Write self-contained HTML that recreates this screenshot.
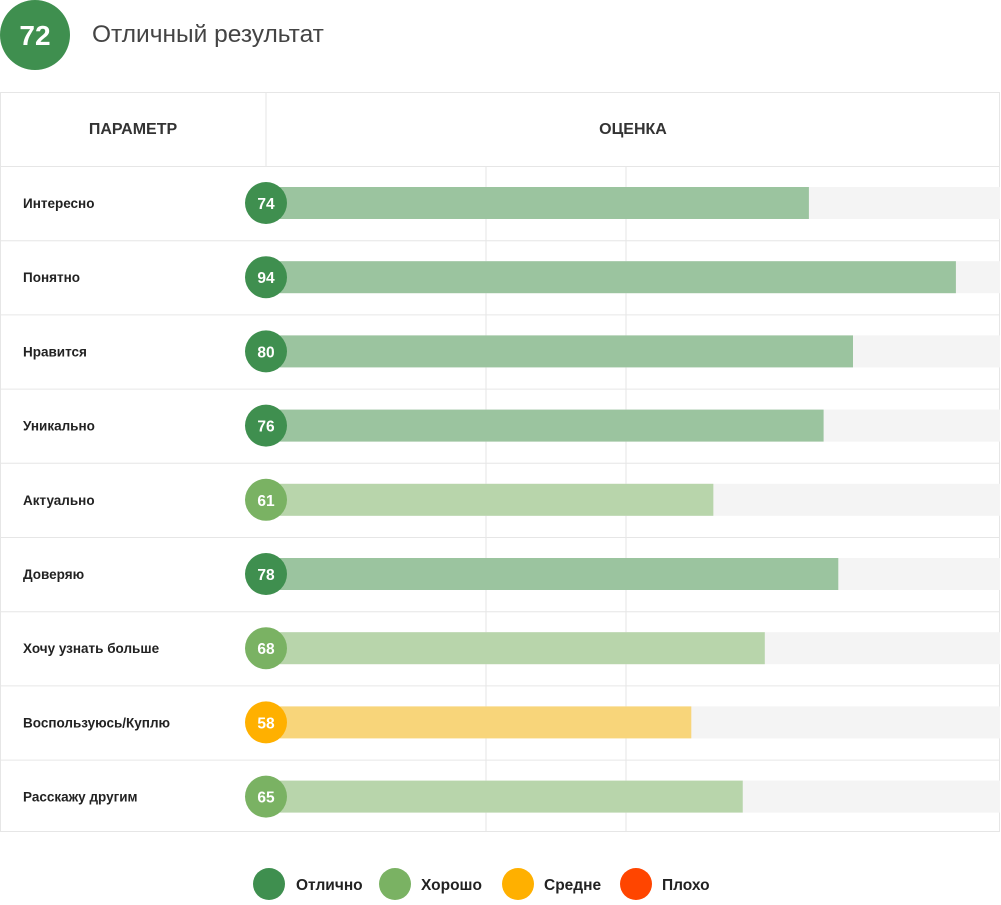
<!DOCTYPE html>
<html><head><meta charset="utf-8"><style>
body{margin:0;background:#fff;width:1001px;height:900px;overflow:hidden;font-family:"Liberation Sans",sans-serif}
svg text{font-family:"Liberation Sans",sans-serif}
</style></head><body>
<svg id="c" width="1001" height="900">
<circle cx="35" cy="35" r="35" fill="#3f8f4f"/>
<text x="35" y="45" text-anchor="middle" fill="#fff" font-size="28" font-weight="bold">72</text>
<text x="92" y="42" fill="#444" font-size="24.5">Отличный результат</text>
<rect x="0.5" y="92.5" width="999" height="739" fill="none" stroke="#e6e6e6"/>
<line x1="266" y1="92" x2="266" y2="166" stroke="#e6e6e6"/>
<line x1="486" y1="166" x2="486" y2="832" stroke="#e6e6e6"/>
<line x1="626" y1="166" x2="626" y2="832" stroke="#e6e6e6"/>
<text x="133" y="134" text-anchor="middle" fill="#333" font-size="16" font-weight="bold">ПАРАМЕТР</text>
<text x="633" y="134" text-anchor="middle" fill="#333" font-size="16" font-weight="bold">ОЦЕНКА</text>
<g id="rows"></g>
<circle cx="269" cy="884" r="16" fill="#3f8f4f"/>
<text x="296" y="890" font-size="15.5" font-weight="bold" fill="#222">Отлично</text>
<circle cx="395" cy="884" r="16" fill="#7ab263"/>
<text x="421" y="890" font-size="15.5" font-weight="bold" fill="#222">Хорошо</text>
<circle cx="518" cy="884" r="16" fill="#ffb000"/>
<text x="544" y="890" font-size="15.5" font-weight="bold" fill="#222">Средне</text>
<circle cx="636" cy="884" r="16" fill="#ff4500"/>
<text x="662" y="890" font-size="15.5" font-weight="bold" fill="#222">Плохо</text>
</svg>
<script>
const categories=["Интересно","Понятно","Нравится","Уникально","Актуально","Доверяю","Хочу узнать больше","Воспользуюсь/Куплю","Расскажу другим"];
const values=[74,94,80,76,61,78,68,58,65];
const x0=265,x1=1000;
function xs(v){return x0+(x1-x0)*v/100;}
function rowY(i){return 166+i*74.2;}
function col(v){return v>=70?["#3f8f4f","#9bc49f"]:v>=60?["#7ab263","#b8d5ab"]:v>=40?["#ffb000","#f8d57a"]:["#ff4500","#f9a98a"];}
const g=document.getElementById('rows');const NS="http://www.w3.org/2000/svg";
function mk(t,a){const e=document.createElementNS(NS,t);for(const k in a)e.setAttribute(k,a[k]);g.appendChild(e);return e;}
categories.forEach((c,i)=>{
const y=rowY(i),cy=y+37,v=values[i],cl=col(v);
const ln=mk('line',{x1:0,x2:1000,y1:y+0.5,y2:y+0.5,stroke:'#e6e6e6'});


const lb=mk('text',{x:23,y:cy+5,'font-size':13.5,'font-weight':'bold',fill:'#222'});lb.textContent=c;


const tr=mk('rect',{x:x0,y:cy-16,width:x1-x0,height:32,fill:'#f4f4f4'});


const b=mk('rect',{x:x0,y:cy-16,width:xs(v)-x0,height:32,fill:cl[1]});


const ci=mk('circle',{cx:266,cy:cy,r:21,fill:cl[0]});


const t=mk('text',{x:266,y:cy+6,'text-anchor':'middle',fill:'#fff','font-size':15.5,'font-weight':'bold'});t.textContent=v;


});
</script>
</body></html>
